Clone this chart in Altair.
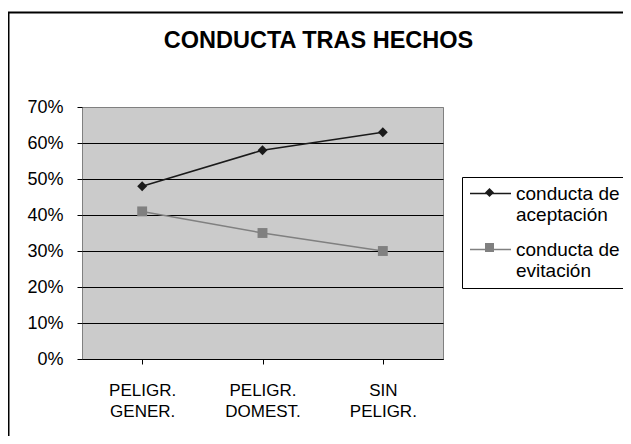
import altair as alt
import pandas as pd

categories = ["PELIGR. GENER.", "PELIGR. DOMEST.", "SIN PELIGR."]
series_names = ["conducta de aceptación", "conducta de evitación"]
aceptacion = [0.48, 0.58, 0.63]
evitacion = [0.41, 0.35, 0.30]
y_ticks = [0, 0.1, 0.2, 0.3, 0.4, 0.5, 0.6, 0.7]

rows = []
for c, v in zip(categories, aceptacion):
    rows.append({"cat": c, "serie": series_names[0], "valor": v})
for c, v in zip(categories, evitacion):
    rows.append({"cat": c, "serie": series_names[1], "valor": v})
df = pd.DataFrame(rows)
df["serie2"] = df["serie"]

FONT = "Liberation Sans"
LABEL_EXPR = "split(replace(datum.label, ' de ', ' de|'), '|')"
GRAYS = ["#1a1a1a", "#808080"]
DIAMOND = "M0,-0.22L0.22,0L0,0.22L-0.22,0Z"
SQUARE = "M-0.22,-0.22L0.22,-0.22L0.22,0.22L-0.22,0.22Z"
LEG_SIZE = 1681

color_scale = alt.Scale(domain=series_names, range=GRAYS)
fill_scale = alt.Scale(range=GRAYS)
shape_scale = alt.Scale(range=[DIAMOND, SQUARE])
x_scale = alt.Scale(domain=categories, paddingInner=0, paddingOuter=0)
y_scale = alt.Scale(domain=[0, 0.7], nice=False)

y_axis = alt.Axis(values=y_ticks, format=".0%", labelFontSize=18, labelFont=FONT,
                  labelColor="black", tickSize=5, tickColor="black", labelPadding=14,
                  domain=False, grid=True,
                  gridColor={"condition": {"test": "datum.value >= 0.69", "value": "#808080"}, "value": "black"})

common_legend = dict(
    title=None, orient="none", legendX=387, legendY=65, padding=0,
    symbolSize=LEG_SIZE, labelFontSize=19, labelFont=FONT, labelColor="black",
    labelOffset=4, rowPadding=3, labelLimit=300, labelBaseline="middle",
)
line_legend = alt.Legend(symbolType="stroke", symbolStrokeWidth=1.5, zindex=1,
                         labelExpr=LABEL_EXPR, **common_legend)
point_legend = alt.Legend(symbolStrokeWidth=0, symbolOpacity=1, labelOpacity=0, zindex=2,
                          labelExpr="[' ', ' ']", **common_legend)

# legend frame (decoration)
legend_box = alt.Chart(pd.DataFrame({"k": [0]})).mark_rect(
    fill="white", stroke="black", strokeWidth=1
).encode(
    x=alt.value(380.5), x2=alt.value(600), y=alt.value(70.5), y2=alt.value(181.5)
)

lines = alt.Chart(df).mark_line(strokeWidth=1.5).encode(
    x=alt.X("cat:N", scale=x_scale, sort=categories, title=None,
            axis=alt.Axis(orient="bottom", bandPosition=0, labels=False, ticks=True,
                          tickSize=5, tickColor="black", domainColor="black", grid=False)),
    y=alt.Y("valor:Q", scale=y_scale, title=None, axis=y_axis),
    color=alt.Color("serie:N", scale=color_scale, legend=line_legend),
)

points = alt.Chart(df).mark_point(filled=True, size=2025, opacity=1).encode(
    x=alt.X("cat:N", scale=x_scale, sort=categories, title=None,
            axis=alt.Axis(orient="bottom", labels=True, ticks=False, domain=False, grid=False,
                          labelAngle=0, labelFontSize=17, labelFont=FONT, labelColor="black",
                          labelBaseline="top", labelPadding=23, labelLineHeight=21,
                          labelExpr="split(datum.label, ' ')")),
    y=alt.Y("valor:Q", scale=y_scale, title=None, axis=y_axis),
    fill=alt.Fill("serie2:N", scale=fill_scale, legend=point_legend),
    shape=alt.Shape("serie2:N", scale=shape_scale, legend=point_legend),
)

border = alt.Chart(pd.DataFrame({"k": [0]})).mark_rect(
    filled=False, stroke="black", strokeWidth=2
).encode(
    x=alt.value(-73.5), x2=alt.value(600), y=alt.value(-94.5), y2=alt.value(400)
)

chart = alt.layer(legend_box, lines, points, border).resolve_axis(x="independent").properties(
    width=361, height=252,
    autosize=alt.AutoSizeParams(type="none"),
    padding={"left": 74, "top": 99, "right": 180, "bottom": 77},
    background="white",
    title=alt.Title("CONDUCTA TRAS HECHOS", font=FONT, fontSize=23.5, fontWeight="bold",
                    color="black", anchor="middle", frame="group", dx=56,
                    baseline="alphabetic", offset=0, dy=60),
).configure_view(fill="#cbcbcb", stroke="#808080", strokeWidth=1)

chart.save("out.html", embed_options={"renderer": "svg", "actions": False})
